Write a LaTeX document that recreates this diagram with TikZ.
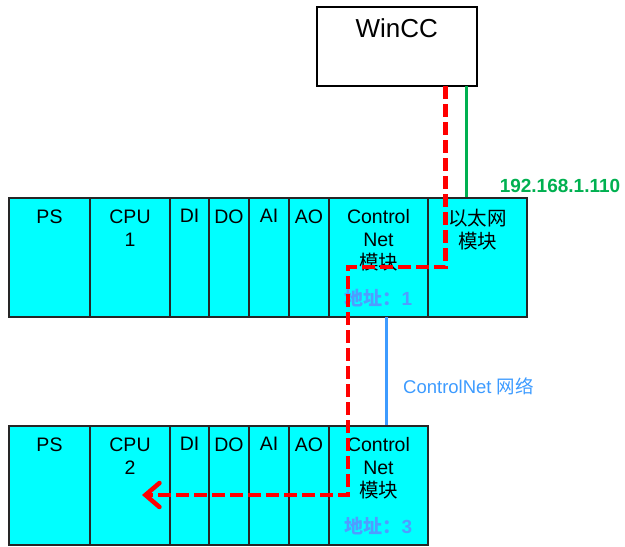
\documentclass[tikz,border=0pt]{standalone}
\usepackage{fontspec}
\setmainfont{Liberation Sans}
\newfontfamily\cjk{Noto Sans CJK SC}
\usepackage{tikz}
\usetikzlibrary{positioning,arrows.meta}
\definecolor{slotcyan}{HTML}{00FFFF}
\definecolor{ethgreen}{HTML}{00B050}
\definecolor{netblue}{HTML}{3D9BFF}
\definecolor{addrblue}{HTML}{4F9DFF}

\begin{document}
\begin{tikzpicture}[x=1pt, y=-1pt,
    slot/.style={draw=black!85, line width=1.5pt, fill=slotcyan, minimum height=119pt, inner sep=0pt},
    lbl/.style={font=\fontsize{19.5}{23}\selectfont, align=center, inner sep=0pt},
    addr/.style={font=\fontsize{19}{23}\selectfont\bfseries, text=addrblue, inner sep=0pt},
    trace/.style={draw=red, line width=4.5pt, dash pattern=on 13pt off 5pt},
    ethline/.style={draw=ethgreen, line width=3pt},
    netline/.style={draw=netblue, line width=3pt}]
        \useasboundingbox (0,0) rectangle (625,547);
        % WinCC station
        \node[draw, line width=2pt, minimum width=160pt, minimum height=79pt, inner sep=0pt] (wincc) at (396.7,46.3) {};
        \node[font=\fontsize{26}{30}\selectfont, inner sep=0pt, below=13pt of wincc.north] {WinCC};
        % rack 1
        \node[slot, minimum width=81pt] (ps1) at (49.5,257.5) {};
        \node[slot, minimum width=80pt] (cpu1) at (130,257.5) {};
        \node[slot, minimum width=39pt] (di1) at (189.5,257.5) {};
        \node[slot, minimum width=40pt] (do1) at (229,257.5) {};
        \node[slot, minimum width=40pt] (ai1) at (269,257.5) {};
        \node[slot, minimum width=40pt] (ao1) at (309,257.5) {};
        \node[slot, minimum width=99pt] (cn1) at (378.5,257.5) {};
        \node[slot, minimum width=99pt] (eth1) at (477.5,257.5) {};
        \node[lbl, below=12pt of ps1.north] {PS};
        \node[lbl, below=12pt of cpu1.north] {CPU\\1};
        \node[lbl, below=12pt of di1.north] {DI};
        \node[lbl, below=12pt of do1.north] {DO};
        \node[lbl, below=12pt of ai1.north] {AI};
        \node[lbl, below=12pt of ao1.north] {AO};
        \node[lbl, below=12pt of cn1.north] {Control\\Net\\{\cjk 模块}};
        \node[lbl, below=12pt of eth1.north] {\cjk 以太网\\\cjk 模块};
        \node[addr, above=11pt of cn1.south] {{\cjk 地址：}1};
        % rack 2
        \node[slot, minimum width=81pt] (ps2) at (49.5,485.5) {};
        \node[slot, minimum width=80pt] (cpu2) at (130,485.5) {};
        \node[slot, minimum width=39pt] (di2) at (189.5,485.5) {};
        \node[slot, minimum width=40pt] (do2) at (229,485.5) {};
        \node[slot, minimum width=40pt] (ai2) at (269,485.5) {};
        \node[slot, minimum width=40pt] (ao2) at (309,485.5) {};
        \node[slot, minimum width=99pt] (cn2) at (378.5,485.5) {};
        \node[lbl, below=12pt of ps2.north] {PS};
        \node[lbl, below=12pt of cpu2.north] {CPU\\2};
        \node[lbl, below=12pt of di2.north] {DI};
        \node[lbl, below=12pt of do2.north] {DO};
        \node[lbl, below=12pt of ao2.north] {AO};
        \node[lbl, below=12pt of ai2.north] {AI};
        \node[lbl, below=12pt of cn2.north] {Control\\Net\\{\cjk 模块}};
        \node[addr, above=11pt of cn2.south] {{\cjk 地址：}3};
        % networks
        \coordinate (gtop) at (466.7,86);
        \draw[ethline] (gtop) -- (gtop |- eth1.north);
        \node[font=\fontsize{19}{23}\selectfont\bfseries, text=ethgreen, inner sep=0pt] (ip) at (560,186) {192.168.1.110};
        \coordinate (btop) at (386.7,317);
        \draw[netline] (btop) -- (btop |- cn2.north);
        \node[font=\fontsize{18.5}{23}\selectfont, text=netblue, inner sep=0pt, anchor=west] (cnnet) at (403,386) {ControlNet {\cjk 网络}};
        % data path
        \coordinate (rtop) at (445.7,86);
        \coordinate (rturn) at (348,267);
        \coordinate (rend) at (142,495);
        \draw[trace, -{Straight Barb[length=14pt, width=24pt, line cap=round]}] (rtop) |- (rturn) |- (rend);
    \end{tikzpicture}
\end{document}
